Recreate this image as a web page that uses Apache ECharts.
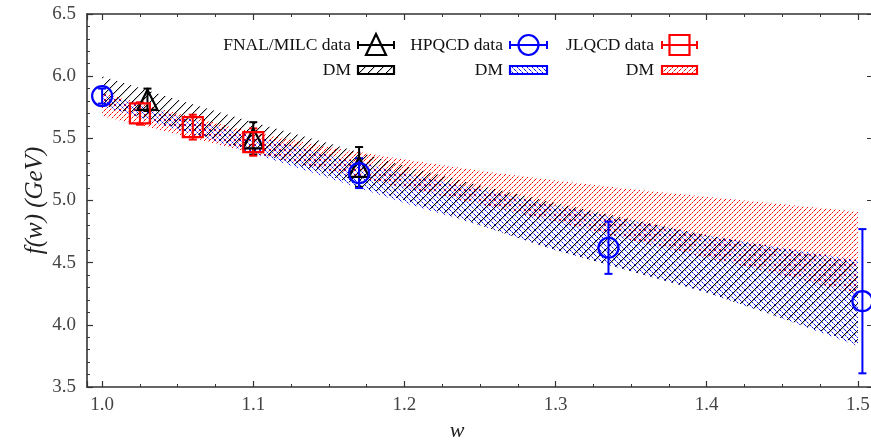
<!DOCTYPE html>
<html><head><meta charset="utf-8">
<script src="https://cdn.jsdelivr.net/npm/echarts@6/dist/echarts.min.js"></script>
<style>html,body{margin:0;padding:0;background:#fff}#c{width:871px;height:443px}</style>
</head><body><div id="c"></div>
<script>
// ---- data ----
const bandW        = [1.00, 1.05, 1.10, 1.15, 1.20, 1.25, 1.30, 1.35, 1.40, 1.45, 1.50];
const fnalBandTop  = [6.00, 5.81, 5.63, 5.46, 5.28, 5.12, 4.98, 4.85, 4.72, 4.61, 4.50];
const fnalBandBot  = [5.77, 5.58, 5.40, 5.20, 5.00, 4.80, 4.60, 4.43, 4.26, 4.05, 3.85];
const hpqcdBandTop = [5.86, 5.68, 5.52, 5.37, 5.22, 5.09, 4.96, 4.84, 4.72, 4.62, 4.52];
const hpqcdBandBot = [5.76, 5.57, 5.38, 5.18, 4.98, 4.80, 4.60, 4.43, 4.26, 4.05, 3.83];
const jlqcdBandTop = [5.87, 5.70, 5.55, 5.43, 5.33, 5.24, 5.16, 5.09, 5.03, 4.97, 4.91];
const jlqcdBandBot = [5.68, 5.53, 5.38, 5.24, 5.10, 4.97, 4.83, 4.68, 4.54, 4.40, 4.25];

const fnalW   = [1.03, 1.10, 1.17];
const fnalF   = [5.81, 5.50, 5.27];
const fnalErr = [0.09, 0.13, 0.16];

const hpqcdW   = [1.00, 1.17, 1.335, 1.503];
const hpqcdF   = [5.84, 5.22, 4.62, 4.19];
const hpqcdErr = [0.06, 0.12, 0.21, 0.58];

const jlqcdW   = [1.025, 1.06, 1.10];
const jlqcdF   = [5.70, 5.59, 5.47];
const jlqcdErr = [0.09, 0.10, 0.11];

const yTicks = [3.5, 4.0, 4.5, 5.0, 5.5, 6.0, 6.5];
const legendLabels = ['FNAL/MILC data', 'HPQCD data', 'JLQCD data', 'DM'];

// ---- styling helpers ----
const FONT = '"Liberation Serif", "DejaVu Serif", serif';
const BLACK = '#000', BLUE = '#0000ff', RED = '#ff0000';

function makePattern(n, dir, strong, weak, halo) {
  const c = document.createElement('canvas');
  c.width = n; c.height = n;
  const ctx = c.getContext('2d');
  for (let i = 0; i < n; i++) {
    const x = i, y = dir === '/' ? (n - 1 - i) : i;
    if (halo) {
      ctx.fillStyle = halo;
      const y2 = dir === '/' ? (n - i) % n : (i + 1) % n;
      ctx.fillRect(x, y2, 1, 1);
    }
    ctx.fillStyle = (i % 2 === 0) ? strong : weak;
    ctx.fillRect(x, y, 1, 1);
  }
  return { image: c, repeat: 'repeat' };
}
const patBlack = makePattern(9, '/', 'rgba(0,0,0,1)', 'rgba(0,0,0,0.9)', 'rgba(0,0,0,0.25)');
const patBlue  = makePattern(5, '\\', 'rgba(0,0,255,1)', 'rgba(40,40,255,0.55)', null);
const patRed   = makePattern(5, '/', 'rgba(255,0,0,1)', 'rgba(255,40,40,0.55)', null);

function bandSeries(name, top, bot, pattern, z) {
  return {
    type: 'custom', name: name, z: z, silent: true,
    data: bandW.map((w, i) => [w, top[i], bot[i]]),
    encode: { x: 0, y: [1, 2] },
    renderItem: function (params, api) {
      if (params.dataIndex !== 0) return null;
      const pts = [];
      for (let i = 0; i < bandW.length; i++) pts.push(api.coord([bandW[i], top[i]]));
      for (let i = bandW.length - 1; i >= 0; i--) pts.push(api.coord([bandW[i], bot[i]]));
      return { type: 'polygon', shape: { points: pts }, style: { fill: pattern, stroke: null } };
    }
  };
}

function errSeries(ws, fs, es, color) {
  return {
    type: 'custom', z: 5, silent: true,
    data: ws.map((w, i) => [w, fs[i] - es[i], fs[i] + es[i]]),
    encode: { x: 0, y: [1, 2] },
    renderItem: function (params, api) {
      const lo = api.coord([api.value(0), api.value(1)]);
      const hi = api.coord([api.value(0), api.value(2)]);
      const cw = 4;
      const st = { stroke: color, lineWidth: 2 };
      return { type: 'group', children: [
        { type: 'line', shape: { x1: lo[0], y1: lo[1], x2: hi[0], y2: hi[1] }, style: st },
        { type: 'line', shape: { x1: lo[0] - cw, y1: lo[1], x2: lo[0] + cw, y2: lo[1] }, style: st },
        { type: 'line', shape: { x1: hi[0] - cw, y1: hi[1], x2: hi[0] + cw, y2: hi[1] }, style: st }
      ]};
    }
  };
}

function markSeries(ws, fs, symbol, size, color) {
  return {
    type: 'scatter', z: 6, silent: true,
    data: ws.map((w, i) => [w, fs[i]]),
    symbol: symbol, symbolSize: size,
    itemStyle: { color: 'rgba(0,0,0,0)', borderColor: color, borderWidth: 2.2, opacity: 1 }
  };
}

// ---- legend (drawn with graphic elements) ----
const LFONT = '17.5px ' + FONT;
function legendEntry(textRight, cy, label, symX1, symX2, color, shape) {
  const els = [];
  els.push({ type: 'text', x: textRight, y: cy, style: { text: label, font: LFONT, fill: '#111', align: 'right', verticalAlign: 'middle' } });
  const cx = (symX1 + symX2) / 2;
  const st = { stroke: color, lineWidth: 2, fill: null };
  els.push({ type: 'line', shape: { x1: symX1, y1: cy, x2: symX2, y2: cy }, style: st });
  els.push({ type: 'line', shape: { x1: symX1, y1: cy - 4, x2: symX1, y2: cy + 4 }, style: st });
  els.push({ type: 'line', shape: { x1: symX2, y1: cy - 4, x2: symX2, y2: cy + 4 }, style: st });
  if (shape === 'triangle') {
    els.push({ type: 'polygon', shape: { points: [[cx, cy - 11], [cx - 10, cy + 10], [cx + 10, cy + 10]] }, style: { stroke: color, lineWidth: 2.2, fill: 'rgba(0,0,0,0)' } });
  } else if (shape === 'circle') {
    els.push({ type: 'circle', shape: { cx: cx, cy: cy, r: 10 }, style: { stroke: color, lineWidth: 2.2, fill: 'rgba(0,0,0,0)' } });
  } else {
    els.push({ type: 'rect', shape: { x: cx - 10, y: cy - 10, width: 20, height: 20 }, style: { stroke: color, lineWidth: 2.2, fill: 'rgba(0,0,0,0)' } });
  }
  return els;
}
function legendBox(textRight, cy, label, x1, x2, color, pattern) {
  return [
    { type: 'text', x: textRight, y: cy, style: { text: label, font: LFONT, fill: '#111', align: 'right', verticalAlign: 'middle' } },
    { type: 'rect', shape: { x: x1, y: cy - 4, width: x2 - x1, height: 8 }, style: { stroke: color, lineWidth: 2.2, fill: pattern } }
  ];
}

const graphics = [].concat(
  legendEntry(351, 45, legendLabels[0], 358, 394, BLACK, 'triangle'),
  legendEntry(503, 45, legendLabels[1], 510, 547, BLUE, 'circle'),
  legendEntry(654, 45, legendLabels[2], 662, 697, RED, 'rect'),
  legendBox(351, 70, legendLabels[3], 358, 394, BLACK, patBlack),
  legendBox(503, 70, legendLabels[3], 510, 547, BLUE, patBlue),
  legendBox(654, 70, legendLabels[3], 662, 697, RED, patRed)
).map(e => Object.assign({ z: 100 }, e));

const axisLineStyle = { color: '#333', width: 1.6 };
const labelStyle = { fontFamily: FONT, fontSize: 19, color: '#444' };

const chart = echarts.init(document.getElementById('c'), null, { renderer: 'canvas' });
chart.setOption({
  animation: false,
  backgroundColor: '#fff',
  grid: { left: 87, right: -2, top: 14, bottom: 56, containLabel: false, outerBoundsMode: 'none' },
  xAxis: [{
    type: 'value', min: 0.99, max: 1.51, splitNumber: 5, position: 'bottom',
    axisLine: { lineStyle: axisLineStyle },
    axisTick: { inside: true, length: 6, lineStyle: { color: '#333', width: 1.2 } },
    minorTick: { show: true, splitNumber: 4, length: 3, lineStyle: { color: '#333', width: 1 } },
    splitLine: { show: false },
    axisLabel: Object.assign({ margin: 9, showMinLabel: false, showMaxLabel: false, formatter: v => v.toFixed(1) }, labelStyle),
    name: 'w', nameLocation: 'middle', nameGap: 33, nameMoveOverlap: false,
    nameTextStyle: { fontFamily: FONT, fontSize: 22, fontStyle: 'italic', color: '#222', padding: [0, 46, 0, 0] }
  }, {
    type: 'value', min: 0.99, max: 1.51, splitNumber: 5, position: 'top',
    axisLine: { lineStyle: axisLineStyle },
    axisTick: { inside: true, length: 6, lineStyle: { color: '#333', width: 1.2 } },
    minorTick: { show: true, splitNumber: 4, length: 3, lineStyle: { color: '#333', width: 1 } },
    splitLine: { show: false }, axisLabel: { show: false }
  }],
  yAxis: [{
    type: 'value', min: yTicks[0], max: yTicks[yTicks.length - 1], interval: 0.5, position: 'left',
    axisLine: { show: true, lineStyle: axisLineStyle },
    axisTick: { show: true, inside: true, length: 6, lineStyle: { color: '#333', width: 1.2 } },
    minorTick: { show: true, splitNumber: 5, length: 3, lineStyle: { color: '#333', width: 1 } },
    splitLine: { show: false },
    axisLabel: Object.assign({ margin: 11, formatter: v => v.toFixed(1) }, labelStyle),
    name: 'f(w) (GeV)', nameLocation: 'middle', nameGap: 39, nameRotate: 90, nameMoveOverlap: false,
    nameTextStyle: { fontFamily: FONT, fontSize: 25, fontStyle: 'italic', color: '#222' }
  }, {
    type: 'value', min: yTicks[0], max: yTicks[yTicks.length - 1], interval: 0.5, position: 'right',
    axisLine: { show: true, lineStyle: axisLineStyle },
    axisTick: { show: true, inside: true, length: 6 }, splitLine: { show: false }, axisLabel: { show: false }
  }],
  series: [
    bandSeries('JLQCD DM', jlqcdBandTop, jlqcdBandBot, patRed, 1),
    bandSeries('HPQCD DM', hpqcdBandTop, hpqcdBandBot, patBlue, 2),
    bandSeries('FNAL DM', fnalBandTop, fnalBandBot, patBlack, 3),
    errSeries(fnalW, fnalF, fnalErr, BLACK),
    errSeries(hpqcdW, hpqcdF, hpqcdErr, BLUE),
    errSeries(jlqcdW, jlqcdF, jlqcdErr, RED),
    markSeries(fnalW, fnalF, 'triangle', [20, 20], BLACK),
    markSeries(hpqcdW, hpqcdF, 'circle', 20, BLUE),
    markSeries(jlqcdW, jlqcdF, 'rect', 20, RED)
  ],
  graphic: graphics
});
</script></body></html>
